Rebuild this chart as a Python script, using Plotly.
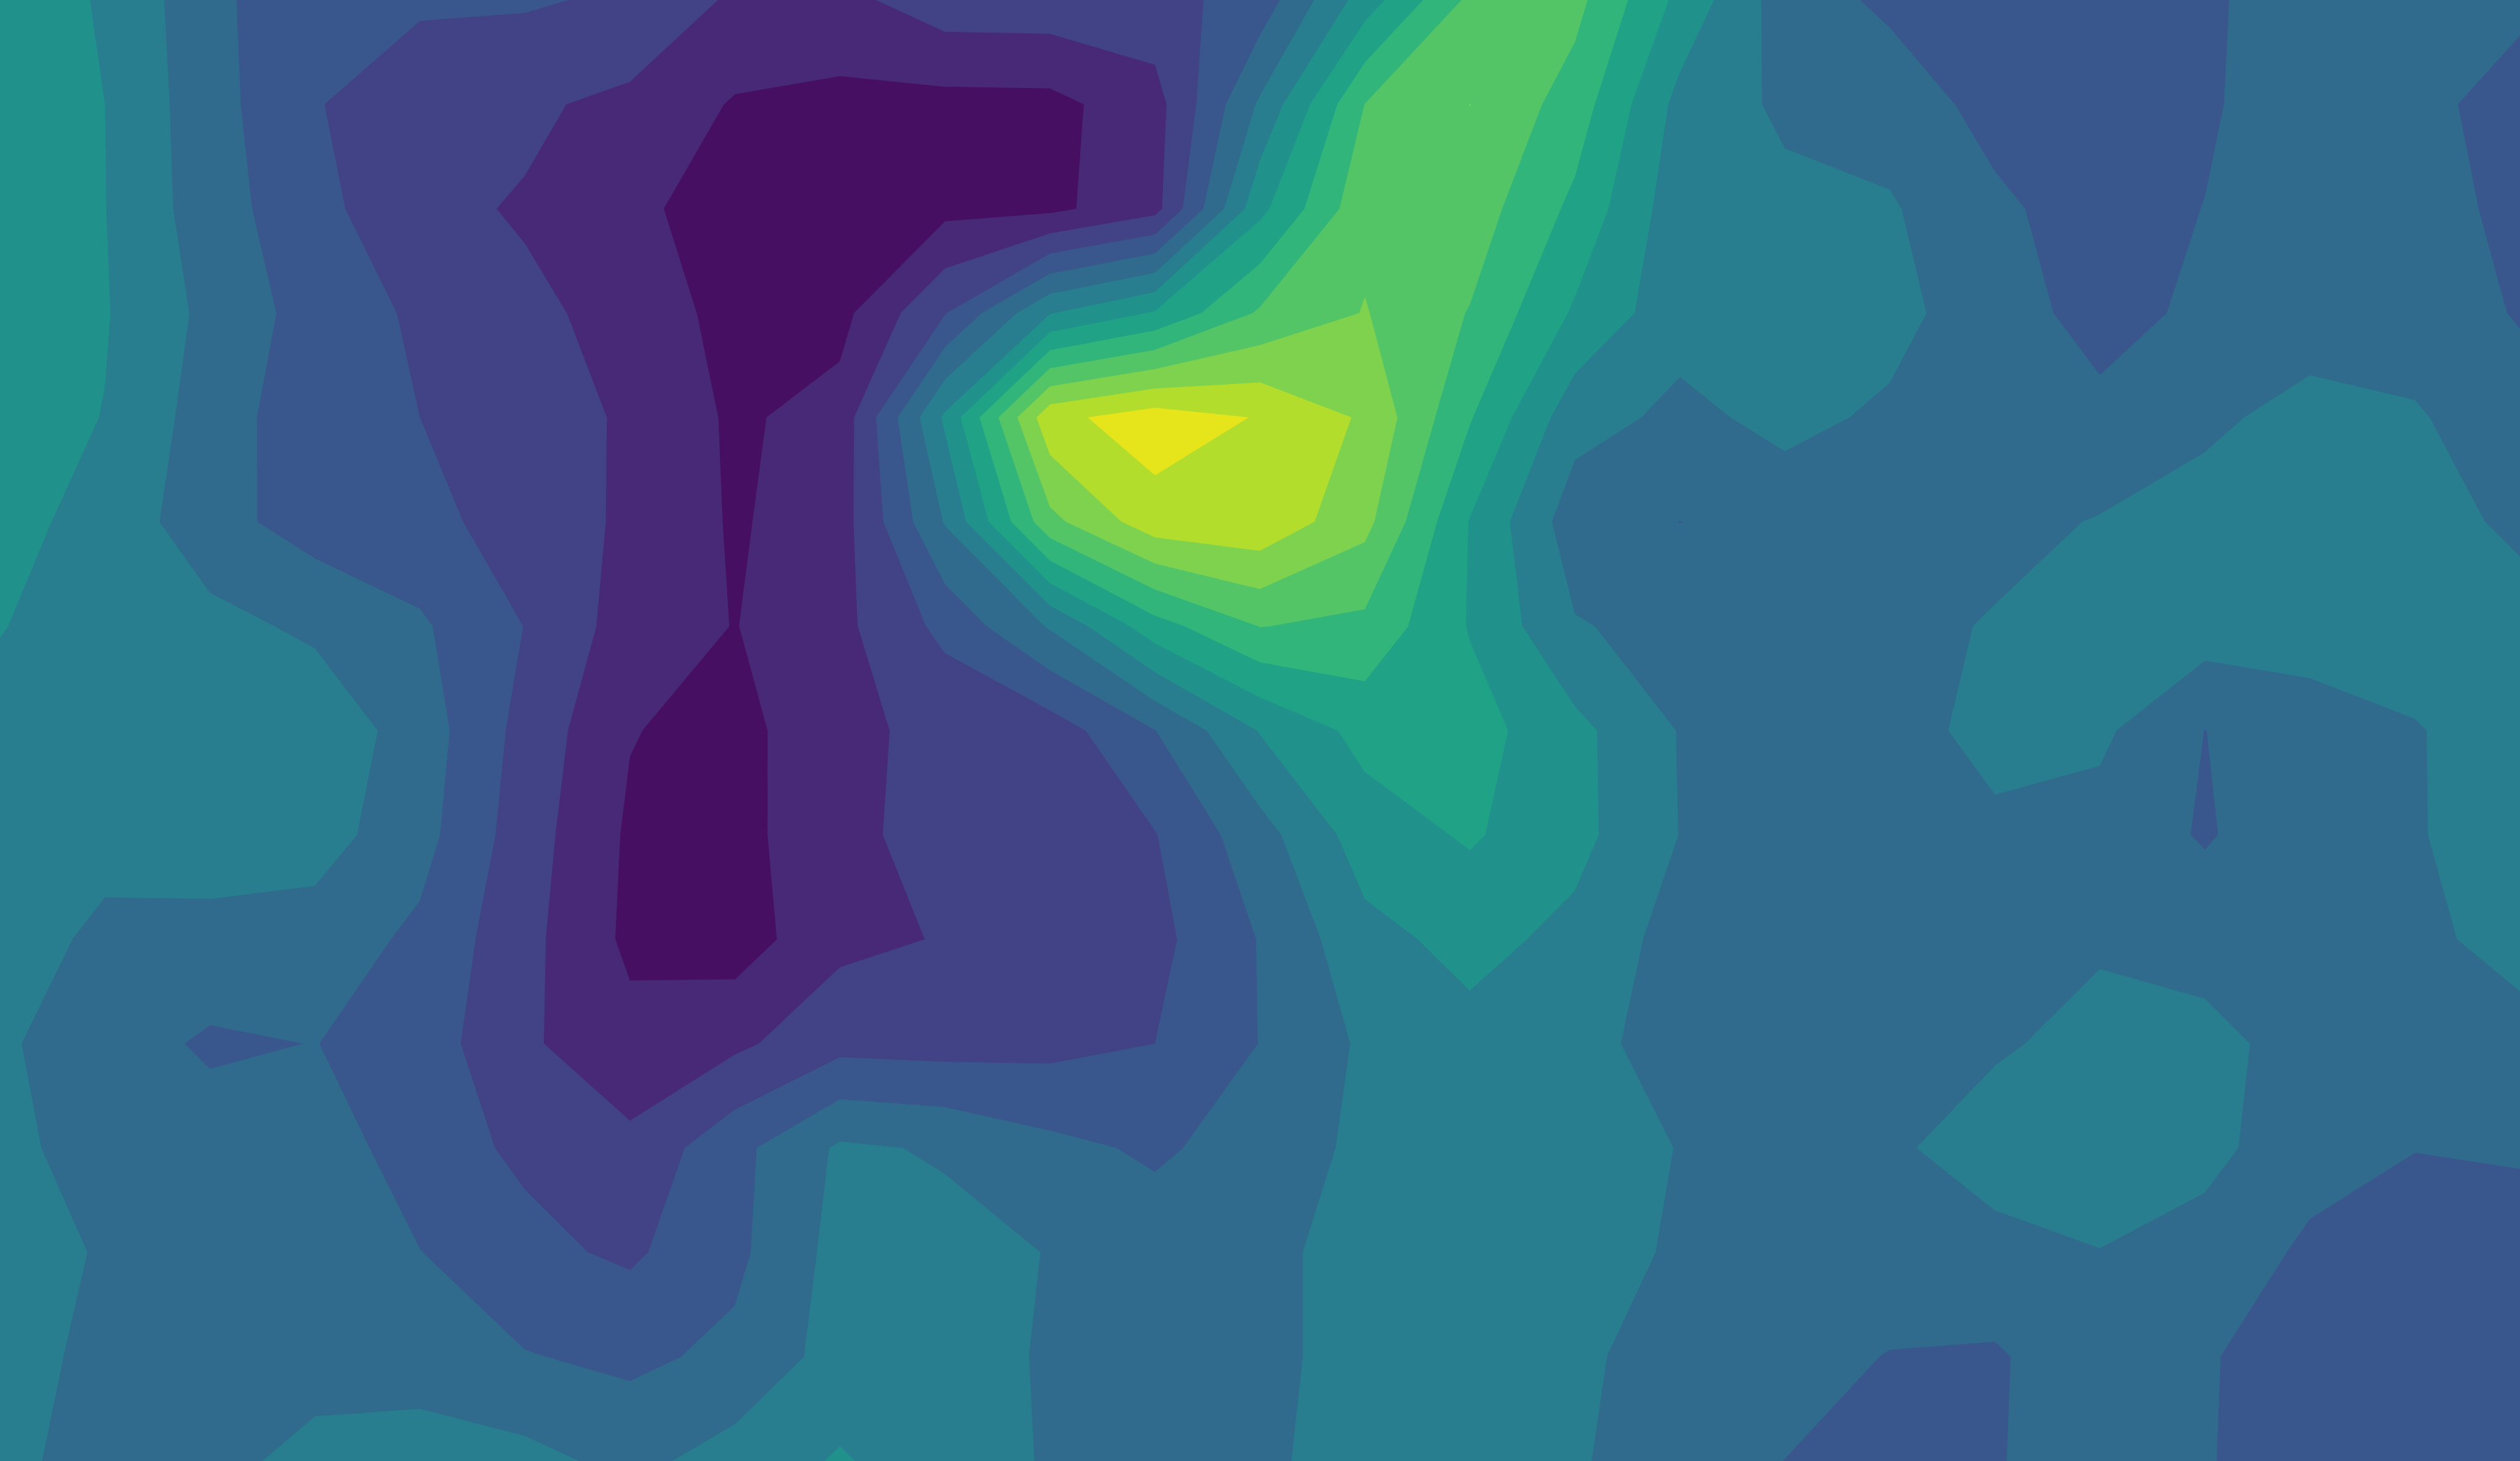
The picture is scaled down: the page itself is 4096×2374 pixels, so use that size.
import plotly.graph_objects as go

# grid coordinates (column / row index of each sample)
x_cols = list(range(25))
y_rows = list(range(15))

# sampled field values, one list per grid row (top row first)
r00 = [6.6, 5.9, 4.3, 3.11, 3.2, 3.12, 2.83, 1.84, 1.7, 2.58, 2.62, 2.64, 3.42, 6.49, 9.22, 9.31, 6.72, 4.5, 3.8, 3.6, 3.5, 3.88, 4.4, 4.45, 4.3]
r01 = [6.6, 6.0, 4.38, 3.08, 2.2, 2.15, 1.77, 0.91, 0.74, 0.68, 0.71, 1.61, 5.15, 9.02, 10.01, 8.54, 5.68, 4.81, 4.55, 3.66, 3.5, 3.85, 4.68, 4.4, 3.42]
r02 = [6.6, 6.02, 4.45, 3.33, 2.19, 1.93, 1.2, 0.58, 0.35, 0.73, 0.78, 1.66, 6.73, 9.73, 9.55, 7.76, 5.38, 5.26, 5.1, 4.19, 3.53, 4.02, 4.6, 4.4, 3.74]
r03 = [6.6, 6.07, 4.74, 3.57, 2.84, 2.14, 1.79, 0.55, 0.7, 2.95, 5.95, 7.1, 9.14, 10.05, 8.95, 6.86, 5.35, 5.5, 5.3, 4.44, 3.65, 4.2, 4.5, 4.5, 3.93]
r04 = [6.5, 5.97, 4.52, 3.36, 3.0, 2.71, 1.8, 0.85, 1.35, 6.17, 11.72, 12.5, 11.94, 10.86, 8.08, 5.38, 4.78, 5.24, 4.85, 4.55, 4.24, 4.8, 5.34, 5.1, 4.39]
r05 = [6.3, 5.69, 4.36, 3.56, 3.3, 2.57, 1.83, 0.89, 1.55, 5.07, 9.72, 11.6, 11.76, 10.3, 6.95, 4.45, 3.99, 4.5, 4.6, 4.7, 5.06, 5.4, 5.3, 5.2, 4.9]
r06 = [6.05, 5.42, 5.3, 4.81, 4.14, 2.98, 1.54, 0.97, 1.74, 3.28, 5.1, 7.6, 9.03, 8.75, 6.93, 5.07, 4.7, 4.5, 4.7, 5.08, 5.3, 5.5, 5.4, 5.4, 5.2]
r07 = [5.6, 5.7, 5.8, 5.7, 4.53, 2.66, 1.05, 0.63, 1.82, 2.2, 2.5, 3.98, 6.06, 7.33, 7.41, 6.28, 4.95, 4.7, 4.8, 5.16, 5.19, 3.99, 4.6, 4.95, 5.4]
r08 = [5.5, 5.45, 5.4, 5.43, 4.36, 2.47, 0.85, 0.6, 1.89, 2.16, 2.4, 2.96, 4.62, 6.5, 7.12, 6.3, 4.98, 4.6, 4.5, 4.9, 4.63, 3.9, 4.7, 4.93, 5.5]
r09 = [5.67, 4.7, 4.75, 4.55, 3.79, 2.3, 0.79, 0.5, 1.75, 2.06, 2.5, 2.72, 4.05, 5.69, 6.31, 5.74, 4.6, 4.4, 4.3, 4.4, 4.84, 4.6, 4.6, 4.8, 5.3]
r10 = [5.13, 4.5, 3.84, 4.02, 3.54, 2.15, 1.32, 1.8, 2.68, 2.6, 2.7, 3.0, 4.02, 5.16, 5.68, 5.35, 4.55, 4.5, 4.6, 4.84, 5.4, 5.3, 4.6, 4.5, 4.7]
r11 = [5.13, 4.8, 4.5, 4.65, 3.4, 2.84, 2.24, 3.7, 5.15, 4.9, 4.26, 3.85, 4.41, 5.23, 5.6, 5.3, 4.98, 4.6, 4.8, 5.6, 5.5, 5.3, 4.36, 4.02, 4.1]
r12 = [5.4, 4.92, 4.6, 4.4, 4.02, 3.24, 2.84, 3.76, 5.35, 5.3, 4.97, 4.5, 4.6, 5.58, 5.5, 5.3, 4.91, 4.6, 4.7, 4.6, 4.98, 4.6, 3.83, 3.6, 3.6]
r13 = [5.4, 4.74, 4.6, 4.6, 4.6, 4.055, 3.78, 4.23, 5.4, 5.4, 4.9, 4.6, 4.8, 5.29, 5.4, 5.22, 4.5, 4.45, 3.95, 3.9, 4.57, 4.1, 3.43, 3.5, 3.6]
r14 = [5.3, 4.55, 4.7, 5.3, 5.4, 5.3, 4.72, 5.42, 6.1, 5.4, 4.93, 4.6, 4.8, 5.47, 5.5, 5.1, 4.47, 3.99, 3.7, 3.9, 4.8, 4.1, 3.19, 3.4, 3.5]

z_grid = [r00, r01, r02, r03, r04, r05, r06, r07, r08, r09, r10, r11, r12, r13, r14]

# contour levels 1..12 -> 13 filled bands
level_start, level_end, level_step = 1, 12, 1

# band colours (viridis sampled at band centres)
band_colors = [
    "rgb(70,15,97)", "rgb(71,41,120)", "rgb(66,66,134)", "rgb(57,87,140)",
    "rgb(48,107,142)", "rgb(40,125,142)", "rgb(33,145,140)", "rgb(32,162,134)",
    "rgb(49,181,123)", "rgb(84,197,103)", "rgb(127,210,78)", "rgb(178,221,45)",
    "rgb(230,228,27)",
]

n = len(band_colors)
colorscale = [[i / (n - 1), c] for i, c in enumerate(band_colors)]

fig = go.Figure(
    go.Contour(
        x=x_cols,
        y=y_rows,
        z=z_grid,
        autocontour=False,
        contours=dict(start=level_start, end=level_end, size=level_step, coloring="fill", showlines=False),
        line=dict(width=0, smoothing=0),
        colorscale=colorscale,
        showscale=False,
        hoverinfo="skip",
    )
)

fig.update_layout(
    width=4096,
    height=2374,
    margin=dict(l=0, r=0, t=0, b=0, pad=0),
    xaxis=dict(range=[0, 24], visible=False, fixedrange=True),
    yaxis=dict(range=[14, 0], visible=False, fixedrange=True),
    paper_bgcolor="white",
    plot_bgcolor="white",
    showlegend=False,
)

fig.write_html("out.html", include_plotlyjs=True, config={"displayModeBar": False})
